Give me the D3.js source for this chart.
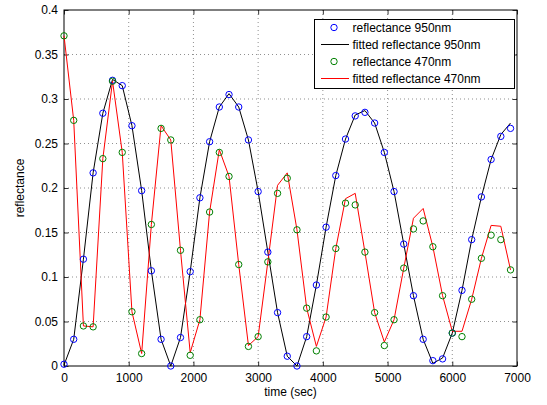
<!DOCTYPE html>
<html>
<head>
<meta charset="utf-8">
<script src="https://cdnjs.cloudflare.com/ajax/libs/d3/7.8.5/d3.min.js"></script>
<style>
  body { margin: 0; background: #fff; }
  svg { font-family: "Liberation Sans", Arial, sans-serif; }
</style>
</head>
<body>
<div class="holder"></div>
<script>
// sample times, every 150 s
var times = d3.range(0, 7000, 150);

// measured reflectance at 950nm (blue circles)
var refl950 = [0.002, 0.030, 0.120, 0.217, 0.284, 0.321, 0.315, 0.270, 0.197, 0.107,
  0.030, 0.000, 0.032, 0.106, 0.189, 0.252, 0.291, 0.305, 0.291, 0.254,
  0.196, 0.128, 0.060, 0.011, 0.000, 0.033, 0.091, 0.156, 0.214, 0.255,
  0.281, 0.285, 0.273, 0.240, 0.196, 0.137, 0.079, 0.030, 0.006, 0.008,
  0.037, 0.085, 0.142, 0.190, 0.232, 0.258, 0.267];

// fitted reflectance at 950nm (black line)
var fit950 = [0.001, 0.030, 0.120, 0.217, 0.284, 0.322, 0.315, 0.270, 0.197, 0.107,
  0.030, 0.000, 0.032, 0.106, 0.189, 0.252, 0.291, 0.306, 0.291, 0.254,
  0.196, 0.128, 0.060, 0.011, 0.000, 0.033, 0.091, 0.156, 0.214, 0.255,
  0.282, 0.287, 0.273, 0.240, 0.196, 0.137, 0.079, 0.030, 0.003, 0.009,
  0.037, 0.085, 0.142, 0.190, 0.232, 0.260, 0.273];

// measured reflectance at 470nm (green circles)
var refl470 = [0.371, 0.276, 0.045, 0.044, 0.233, 0.320, 0.240, 0.061, 0.014, 0.159,
  0.267, 0.254, 0.130, 0.012, 0.052, 0.173, 0.240, 0.213, 0.114, 0.022,
  0.033, 0.117, 0.194, 0.211, 0.153, 0.065, 0.017, 0.055, 0.132, 0.183,
  0.181, 0.128, 0.060, 0.023, 0.052, 0.110, 0.154, 0.163, 0.134, 0.079,
  0.037, 0.033, 0.075, 0.121, 0.147, 0.142, 0.108];

// fitted reflectance at 470nm (red line)
var fit470 = [0.371, 0.276, 0.045, 0.044, 0.233, 0.320, 0.240, 0.061, 0.014, 0.159,
  0.270, 0.254, 0.130, 0.015, 0.052, 0.173, 0.243, 0.213, 0.114, 0.023,
  0.033, 0.117, 0.203, 0.217, 0.153, 0.065, 0.022, 0.055, 0.132, 0.188,
  0.194, 0.128, 0.060, 0.027, 0.052, 0.110, 0.166, 0.177, 0.134, 0.079,
  0.039, 0.039, 0.075, 0.121, 0.158, 0.157, 0.108];

var xTicks = [0, 1000, 2000, 3000, 4000, 5000, 6000, 7000];
var yTicks = [0, 0.05, 0.1, 0.15, 0.2, 0.25, 0.3, 0.35, 0.4];

var legendLabels = ["reflectance 950nm", "fitted reflectance 950nm",
  "reflectance 470nm", "fitted reflectance 470nm"];

(function() {
  var W = 547, H = 405;
  var mLeft = 64, mRight = 517, mTop = 10, mBottom = 366;
  var fs = 12;

  var svg = d3.select(".holder").append("svg")
    .attr("width", W).attr("height", H);

  var x = d3.scaleLinear().domain([0, 7000]).range([mLeft, mRight]);
  var y = d3.scaleLinear().domain([0, 0.4]).range([mBottom, mTop]);

  // dotted grid
  svg.append("g").selectAll("line").data(xTicks.slice(1, -1)).join("line")
    .attr("x1", d => x(d)).attr("x2", d => x(d))
    .attr("y1", mTop).attr("y2", mBottom)
    .attr("stroke", "#444").attr("stroke-width", 0.6)
    .attr("stroke-dasharray", "1,3");
  svg.append("g").selectAll("line").data(yTicks.slice(1, -1)).join("line")
    .attr("y1", d => y(d)).attr("y2", d => y(d))
    .attr("x1", mLeft).attr("x2", mRight)
    .attr("stroke", "#444").attr("stroke-width", 0.6)
    .attr("stroke-dasharray", "1,3");

  // axes (ticks inward, box)
  var tl = 4.5;
  svg.append("g").attr("transform", "translate(0," + mBottom + ")")
    .call(d3.axisBottom(x).tickValues(xTicks).tickSizeInner(-tl).tickSizeOuter(0)
      .tickPadding(7).tickFormat(d3.format("d")));
  svg.append("g").attr("transform", "translate(" + mLeft + ",0)")
    .call(d3.axisLeft(y).tickValues(yTicks).tickSizeInner(-tl).tickSizeOuter(0).tickPadding(6)
      .tickFormat(d => d === 0 ? "0" : String(+d.toFixed(2))));
  svg.append("g").attr("transform", "translate(0," + mTop + ")")
    .call(d3.axisTop(x).tickValues(xTicks).tickSizeInner(-tl).tickSizeOuter(0).tickFormat(""));
  svg.append("g").attr("transform", "translate(" + mRight + ",0)")
    .call(d3.axisRight(y).tickValues(yTicks).tickSizeInner(-tl).tickSizeOuter(0).tickFormat(""));

  svg.selectAll(".domain").remove();
  svg.selectAll(".tick line").attr("stroke", "#000").attr("stroke-width", 0.8);
  svg.selectAll(".tick text").attr("font-size", fs).attr("fill", "#000")
    .attr("font-family", "Liberation Sans, Arial, sans-serif");

  svg.append("rect")
    .attr("x", mLeft).attr("y", mTop)
    .attr("width", mRight - mLeft).attr("height", mBottom - mTop)
    .attr("fill", "none").attr("stroke", "#000").attr("stroke-width", 1);

  // axis labels
  svg.append("text").attr("x", (mLeft + mRight) / 2).attr("y", 396)
    .attr("text-anchor", "middle").attr("font-size", fs).text("time (sec)");
  svg.append("text")
    .attr("transform", "translate(24," + (mTop + mBottom) / 2 + ") rotate(-90)")
    .attr("text-anchor", "middle").attr("font-size", fs).text("reflectance");

  // lines
  var line = d3.line().x((d, i) => x(times[i])).y(d => y(d));

  svg.append("path").datum(fit950).attr("d", line)
    .attr("fill", "none").attr("stroke", "#000").attr("stroke-width", 1);
  svg.append("path").datum(fit470).attr("d", line)
    .attr("fill", "none").attr("stroke", "#ff0000").attr("stroke-width", 1);

  // markers
  var r = 3.2;
  svg.append("g").selectAll("circle").data(refl950).join("circle")
    .attr("cx", (d, i) => x(times[i])).attr("cy", d => y(d)).attr("r", r)
    .attr("fill", "none").attr("stroke", "#0000ff").attr("stroke-width", 1);
  svg.append("g").selectAll("circle").data(refl470).join("circle")
    .attr("cx", (d, i) => x(times[i])).attr("cy", d => y(d)).attr("r", r)
    .attr("fill", "none").attr("stroke", "#008000").attr("stroke-width", 1);

  // legend
  var lg = svg.append("g");
  lg.append("rect").attr("x", 314.5).attr("y", 19.5).attr("width", 200).attr("height", 69)
    .attr("fill", "#fff").attr("stroke", "#000").attr("stroke-width", 1);
  var rows = [27.5, 44.5, 61.5, 78.5];
  var kinds = [
    { type: "m", color: "#0000ff" },
    { type: "l", color: "#000" },
    { type: "m", color: "#008000" },
    { type: "l", color: "#ff0000" }
  ];
  kinds.forEach(function(k, i) {
    if (k.type === "m") {
      lg.append("circle").attr("cx", 334).attr("cy", rows[i]).attr("r", r)
        .attr("fill", "none").attr("stroke", k.color).attr("stroke-width", 1);
    } else {
      lg.append("line").attr("x1", 321).attr("x2", 349).attr("y1", rows[i]).attr("y2", rows[i])
        .attr("stroke", k.color).attr("stroke-width", 1);
    }
    lg.append("text").attr("x", 352.5).attr("y", rows[i]).attr("dy", "0.35em")
      .attr("font-size", fs).text(legendLabels[i]);
  });
})();
</script>
</body>
</html>
